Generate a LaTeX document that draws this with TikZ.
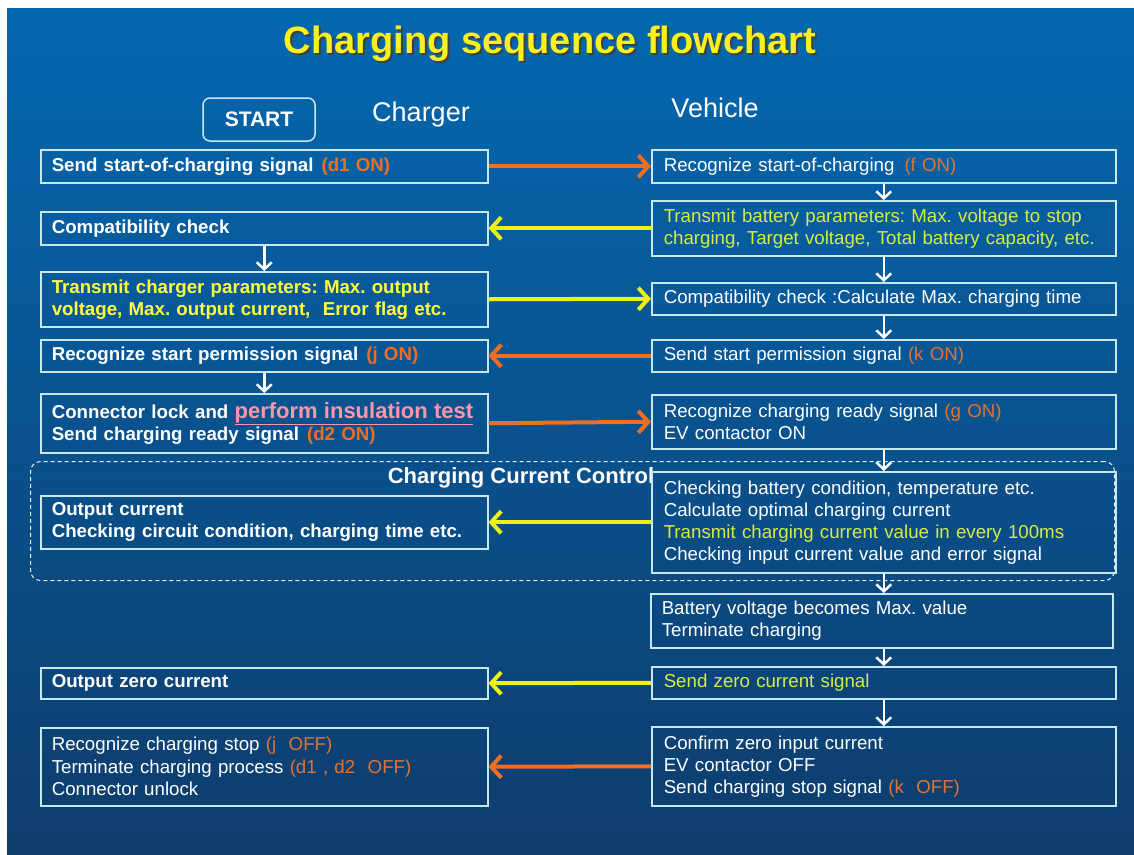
\documentclass[tikz,border=0pt]{standalone}
\usepackage{fontspec}
\setmainfont{Liberation Sans}
\usetikzlibrary{arrows.meta}
\frenchspacing
\definecolor{bgtop}{RGB}{4,104,176}
\definecolor{bgbot}{RGB}{14,60,108}
\definecolor{edge}{RGB}{200,232,240}
\definecolor{orng}{RGB}{240,110,35}
\definecolor{orngtxt}{RGB}{225,115,50}
\definecolor{yarr}{RGB}{240,240,25}
\definecolor{ytxt}{RGB}{255,255,60}
\definecolor{ygtxt}{RGB}{215,235,70}
\definecolor{pinktxt}{RGB}{255,150,170}
\definecolor{titley}{RGB}{250,240,30}
\begin{document}
\begin{tikzpicture}[x=1pt,y=-1pt,
  box/.style={draw=edge, line width=1.5pt, anchor=north west, inner ysep=0pt, align=left, text=white},
  lbox/.style={box, inner xsep=11pt, text width=425pt, font={\bfseries\fontsize{18.7}{22}\selectfont}},
  lboxr/.style={box, inner xsep=11pt, text width=425pt, font={\fontsize{18.7}{22.5}\selectfont}},
  rbox/.style={box, inner xsep=12pt, text width=440pt, font={\fontsize{18.7}{22}\selectfont}},
  sig/.style={line width=4pt, -{Straight Barb[length=10pt,width=22pt]}},
  osig/.style={sig, draw=orng},
  ysig/.style={sig, draw=yarr},
  flow/.style={draw=white, line width=2.5pt, -{Straight Barb[length=7pt,width=15pt]}},
  ctrl/.style={draw=white!90!cyan, line width=1pt, dash pattern=on 4pt off 3pt, rounded corners=10pt, anchor=north west, inner sep=0pt}
]
\useasboundingbox (0,0) rectangle (1134,854);
\fill[white] (0,0) rectangle (1134,854);
\shade[top color=bgtop, bottom color=bgbot] (7,8) rectangle (1134,854);

% title
\node[anchor=base, text=black!75, font={\bfseries\fontsize{38}{40}\selectfont}] (titleshadow) at (552,55) {Charging sequence flowchart};
\node[anchor=base, text=titley, font={\bfseries\fontsize{38}{40}\selectfont}] (title) at (550,53) {Charging sequence flowchart};

\node[draw=edge, line width=1.5pt, rounded corners=7pt, minimum width=112pt, minimum height=43pt, text=white, font={\bfseries\fontsize{21}{24}\selectfont}] (start) at (259,119.5) {START};
\node[anchor=base, text=white, font={\fontsize{27}{30}\selectfont}] (charger) at (421,121) {Charger};
\node[anchor=base, text=white, font={\fontsize{27}{30}\selectfont}] (vehicle) at (715,117) {Vehicle};

% charging current control frame
\node[ctrl, minimum width=1084pt, minimum height=119pt] (ccc) at (30,461) {};
\node[text=white, font={\bfseries\fontsize{22}{24}\selectfont}] (ccclabel) at (521,478) {Charging Current Control};

% left column (charger)
\node[lbox, minimum height=33pt] (L1) at (40,149) {Send start-of-charging signal\hspace{8pt}\textcolor{orng}{(d1 ON)}};
\node[lbox, minimum height=33pt] (L2) at (40,211) {Compatibility check};
\node[lbox, minimum height=55pt, text=ytxt] (L3) at (40,271) {Transmit charger parameters: Max. output\\voltage, Max. output current,\ \ Error flag etc.};
\node[lbox, minimum height=32pt] (L4) at (40,339) {Recognize start permission signal\hspace{8pt}\textcolor{orng}{(j ON)}};
\node[lbox, minimum height=59pt] (L5) at (40,393) {Connector lock and {\fontsize{22}{22}\selectfont\color{pinktxt}\underline{perform insulation test}}\\Send charging ready signal\hspace{8pt}\textcolor{orng}{(d2 ON)}};
\node[lbox, minimum height=53pt] (L6) at (40,495) {Output current\\Checking circuit condition, charging time etc.};
\node[lbox, minimum height=31pt] (L7) at (40,667) {Output zero current};
\node[lboxr, minimum height=78pt] (L8) at (40,727) {Recognize charging stop \textcolor{orngtxt}{(j\ \ OFF)}\\Terminate charging process \textcolor{orngtxt}{(d1 , d2\ \ OFF)}\\Connector unlock};

% right column (vehicle)
\node[rbox, minimum height=33pt] (R1) at (651,149) {Recognize start-of-charging\hspace{10pt}\textcolor{orngtxt}{(f ON)}};
\node[rbox, minimum height=55pt, text=ygtxt] (R2) at (651,200) {Transmit battery parameters: Max. voltage to stop\\charging, Target voltage, Total battery capacity, etc.};
\node[rbox, minimum height=32pt] (R3) at (651,282) {Compatibility check :Calculate Max. charging time};
\node[rbox, minimum height=32pt] (R4) at (651,339) {Send start permission signal \textcolor{orngtxt}{(k ON)}};
\node[rbox, minimum height=54pt] (R5) at (651,394) {Recognize charging ready signal \textcolor{orngtxt}{(g ON)}\\EV contactor ON};
\node[rbox, minimum height=101pt] (R6) at (651,471) {Checking battery condition, temperature etc.\\Calculate optimal charging current\\\textcolor{ygtxt}{Transmit charging current value in every 100ms}\\Checking input current value and error signal};
\node[rbox, minimum height=54pt, inner xsep=11pt, text width=440pt] (R7) at (650,593) {Battery voltage becomes Max. value\\Terminate charging};
\node[rbox, minimum height=32pt, text=ygtxt] (R8) at (651,666) {Send zero current signal};
\node[rbox, minimum height=79pt] (R9) at (651,726) {Confirm zero input current\\EV contactor OFF\\Send charging stop signal \textcolor{orngtxt}{(k\ \ OFF)}};

% signals between charger and vehicle
\draw[osig] (L1.east) -- (R1.west);
\draw[ysig] (R2.west) -- (L2.east);
\draw[ysig] (L3.east) -- (R3.west);
\draw[osig] (R4.west) -- (L4.east);
\draw[osig] (L5.east) -- (R5.west);
\draw[ysig] (R6.west) -- (L6.east);
\draw[ysig] (R8.west) -- (L7.east);
\draw[osig] (R9.west) -- (L8.east);

% flow inside each column
\draw[flow] (L2.south) -- (L3.north);
\draw[flow] (L4.south) -- (L5.north);
\draw[flow] (R1.south) -- (R2.north);
\draw[flow] (R2.south) -- (R3.north);
\draw[flow] (R3.south) -- (R4.north);
\draw[flow] (R5.south) -- (R6.north);
\draw[flow] (R6.south) -- (R7.north -| R6.south);
\draw[flow] (R7.south -| R8.north) -- (R8.north);
\draw[flow] (R8.south) -- (R9.north);
\end{tikzpicture}
\end{document}
